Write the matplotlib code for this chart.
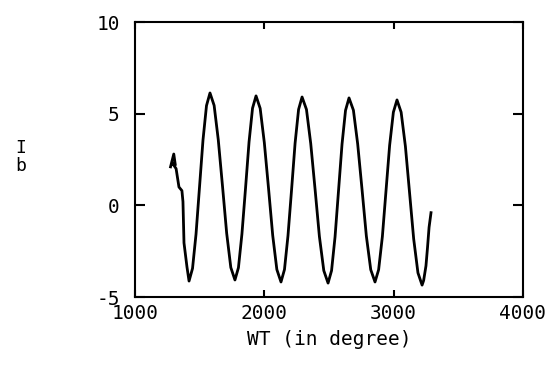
import matplotlib
matplotlib.use("Agg")
import matplotlib.pyplot as plt

# angle (degree) and current I_b
wt = [1275, 1300, 1312, 1290, 1318, 1340, 1363, 1371, 1379, 1402,
      1418, 1445, 1472, 1499, 1526, 1553, 1580,
      1612, 1644, 1677, 1709, 1741, 1773,
      1800, 1827, 1855, 1882, 1909, 1936,
      1968, 2000, 2033, 2065, 2097, 2129,
      2156, 2183, 2211, 2238, 2265, 2292,
      2326, 2359, 2393, 2426, 2460, 2493,
      2520, 2547, 2574, 2601, 2628, 2655,
      2689, 2722, 2756, 2789, 2823, 2856,
      2884, 2913, 2941, 2969, 2998, 3026,
      3058, 3091, 3123, 3155, 3188, 3220,
      3232, 3250, 3262, 3274, 3289]
ib = [2.1, 2.8, 2.2, 2.3, 2.0, 1.0, 0.8, 0.2, -2.05, -3.36,
      -4.13, -3.44, -1.57, 1.00, 3.57, 5.44, 6.13,
      5.45, 3.58, 1.03, -1.52, -3.39, -4.07,
      -3.40, -1.56, 0.95, 3.46, 5.30, 5.97,
      5.29, 3.43, 0.90, -1.64, -3.50, -4.18,
      -3.50, -1.66, 0.87, 3.39, 5.23, 5.91,
      5.23, 3.37, 0.84, -1.70, -3.56, -4.24,
      -3.56, -1.72, 0.81, 3.34, 5.18, 5.86,
      5.19, 3.35, 0.84, -1.67, -3.51, -4.18,
      -3.51, -1.70, 0.79, 3.27, 5.08, 5.75,
      5.08, 3.22, 0.70, -1.83, -3.68, -4.35,
      -4.1, -3.3, -2.3, -1.2, -0.4]

xticks = [1000, 2000, 3000, 4000]
xtick_labels = ["1000", "2000", "3000", "4000"]
yticks = [-5, 0, 5, 10]
ytick_labels = ["-5", "0", "5", "10"]

plt.rcParams["font.family"] = "DejaVu Sans Mono"

fig = plt.figure(figsize=(5.58, 3.67), dpi=100)
ax = fig.add_axes([0.2419, 0.1907, 0.6953, 0.7493])

ax.plot(wt, ib, color="black", lw=2.0)

ax.set_xlim(1000, 4000)
ax.set_ylim(-5, 10)
ax.set_xticks(xticks)
ax.set_xticklabels(xtick_labels)
ax.set_yticks(yticks)
ax.set_yticklabels(ytick_labels)

ax.tick_params(axis="x", direction="in", length=5, width=1.5, top=True,
               labelsize=14, pad=5)
ax.tick_params(axis="y", direction="in", length=7, width=1.5, right=True,
               labelsize=14, pad=11)
for s in ax.spines.values():
    s.set_linewidth(1.5)

ax.set_xlabel("WT (in degree)", fontsize=14, labelpad=5)
fig.text(21 / 558, 1 - 157 / 367, "I\nb", fontsize=13, ha="center",
         va="center", linespacing=1.0)

fig.savefig("out.png", dpi=100)
